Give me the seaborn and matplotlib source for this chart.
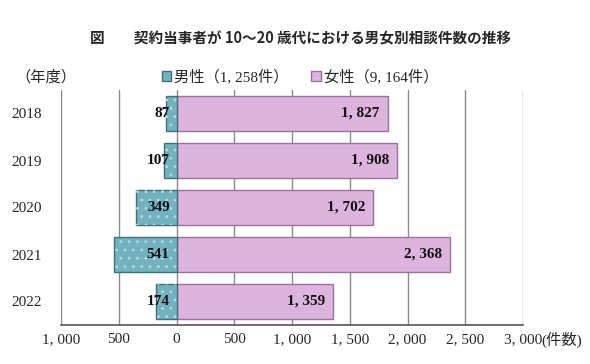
import matplotlib
matplotlib.use("Agg")
import matplotlib.pyplot as plt
import seaborn as sns
import pandas as pd
from matplotlib.patches import Patch, Rectangle

years = ["2018", "2019", "2020", "2021", "2022"]
male = [87, 107, 349, 541, 174]
female = [1827, 1908, 1702, 2368, 1359]
xticks = [-1000, -500, 0, 500, 1000, 1500, 2000, 2500, 3000]
xticklabels = ["1, 000", "500", "0", "500", "1, 000", "1, 500", "2, 000", "2, 500", "3, 000"]
title = "図　　契約当事者が 10～20 歳代における男女別相談件数の推移"
male_label = "男性（1, 258件）"
female_label = "女性（9, 164件）"

sns.set_theme(style="white")
plt.rcParams['font.family'] = ['Liberation Serif', 'Noto Sans CJK JP', 'DejaVu Sans']
plt.rcParams['hatch.linewidth'] = 0.8

male_c = "#72b3bf"
female_c = "#dcb4de"

df = pd.DataFrame({"year": years, "male": [-m for m in male], "female": female})

fig = plt.figure(figsize=(5.9, 3.64), dpi=100)
ax = fig.add_axes([61/590, 1-325/364, (523-61)/590, (325-90)/364])

for x in xticks:
    ax.axvline(x, color="#8a8a8a", lw=1.0, zorder=0)

sns.barplot(data=df, x="female", y="year", order=years, orient="h", color=female_c,
            width=0.75, edgecolor="#9b6f9e", linewidth=1.0, saturation=1, ax=ax, zorder=2)
n_f = len(ax.patches)
sns.barplot(data=df, x="male", y="year", order=years, orient="h", color=male_c,
            width=0.75, edgecolor="#3f6f7a", linewidth=1.0, saturation=1, ax=ax, zorder=2)

# subtle light dot texture on male bars
for p in list(ax.patches[n_f:]):
    ax.add_patch(Rectangle(p.get_xy(), p.get_width(), p.get_height(), fill=False,
                           edgecolor="#b9dbe1", linewidth=0, hatch="..", zorder=3))

for i, (m, f) in enumerate(zip(male, female)):
    ax.text(-60, i, f"{m:,}".replace(",", ", "), ha="right", va="center",
            fontsize=11, fontweight="bold", color="#111111", zorder=5)
    ax.text(f - 70, i, f"{f:,}".replace(",", ", "), ha="right", va="center",
            fontsize=11, fontweight="bold", color="#111111", zorder=5)

ax.set_xlim(-1000, 3000)
ax.set_ylim(len(years) - 0.5, -0.5)
ax.set_xticks(xticks)
ax.set_xticklabels(xticklabels, fontsize=11)
ax.set_yticks(range(len(years)))
ax.set_yticklabels(years, fontsize=11)
ax.set_xlabel("")
ax.set_ylabel("")
ax.tick_params(axis="y", length=0, pad=14)
ax.tick_params(axis="x", length=4, width=1, color="#555555", direction="inout", pad=4)
for s in ["top", "right", "left"]:
    ax.spines[s].set_visible(False)
ax.spines["bottom"].set_color("#555555")
ax.spines["bottom"].set_linewidth(1.2)

fig.text(0.51, 1-38/364, title, ha="center", va="center", fontsize=10.5,
         fontweight="bold", family=['Noto Sans CJK JP', 'DejaVu Sans'])
fig.text(15/590, 1-77/364, "（年度）", ha="left", va="center", fontsize=11)
fig.text(541/590, 1-340/364, "(件数)", ha="left", va="center", fontsize=11)

handles = [Patch(facecolor=male_c, edgecolor="#3f6f7a", label=male_label),
           Patch(facecolor=female_c, edgecolor="#9b6f9e", label=female_label)]
fig.legend(handles=handles, loc="center", bbox_to_anchor=(300/590, 1-77/364), ncol=2,
           frameon=False, fontsize=11, handlelength=0.6, handleheight=0.6,
           handletextpad=0.2, columnspacing=1.5)

fig.savefig("out.png", dpi=100)
